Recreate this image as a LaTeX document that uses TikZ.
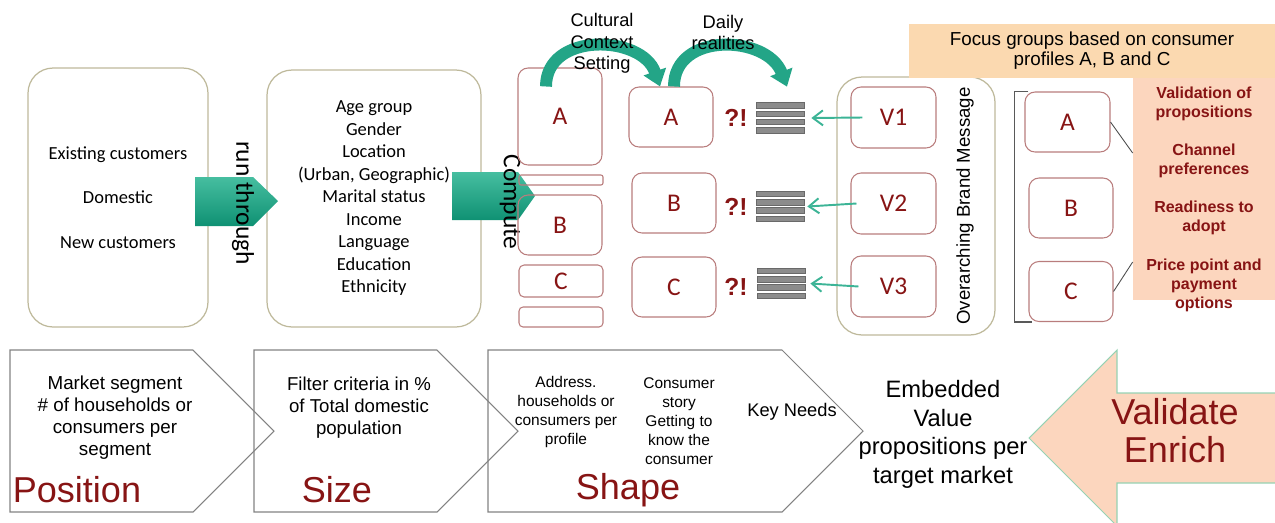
\documentclass[tikz,border=0pt]{standalone}
\usepackage{fontspec}
\setmainfont{Liberation Sans}
\newfontfamily\calibri{Carlito}
\usetikzlibrary{positioning,arrows.meta,calc}
\definecolor{olivegray}{RGB}{190,185,155}
\definecolor{rosegray}{RGB}{185,125,125}
\definecolor{wine}{RGB}{135,20,20}
\definecolor{tealtop}{RGB}{70,190,160}
\definecolor{tealbot}{RGB}{15,145,115}
\definecolor{tealmid}{RGB}{35,165,135}
\definecolor{tealline}{RGB}{60,180,150}
\definecolor{peach}{RGB}{251,217,176}
\definecolor{salmon}{RGB}{252,214,190}
\definecolor{bargray}{RGB}{140,140,140}
\definecolor{edgegray}{RGB}{130,130,130}
\definecolor{mintedge}{RGB}{150,210,180}

\begin{document}
\begin{tikzpicture}[x=0.02cm, y=-0.02cm, every node/.style={inner sep=0pt},
    outerbox/.style={draw=olivegray, line width=0.7pt, rounded corners=0.5cm},
    segbox/.style={draw=rosegray, line width=0.6pt, rounded corners=0.2cm, minimum width=1.68cm, minimum height=1.2cm, font=\calibri\fontsize{14.5}{16}\selectfont, text=wine},
    bandarrow/.style={draw=tealmid, line width=6.8pt, -{Triangle[width=13pt,length=9pt]}},
    valarrow/.style={draw=tealline, line width=1.1pt, -{Straight Barb[length=2mm,width=3mm]}},
    bigword/.style={text=wine, font=\fontsize{20.5}{21.5}\selectfont}]
  \useasboundingbox (0,0) rectangle (1275,522);

  % customer base and filter criteria
  \node[outerbox, minimum width=3.6cm, minimum height=5.18cm, align=center, font=\calibri\fontsize{10.5}{12.8}\selectfont] (customers) at (118,197.5) {Existing customers\\[12.7pt]Domestic\\[12.7pt]New customers};
  \node[outerbox, minimum width=4.28cm, minimum height=5.14cm, align=center, font=\calibri\fontsize{10.5}{12.8}\selectfont] (criteria) at (374,198.5) {Age group\\Gender\\Location\\(Urban, Geographic)\\Marital status\\Income\\Language\\Education\\Ethnicity};
  \shade[top color=tealtop, bottom color=tealbot] (195,177) -- (253,177) -- (278,201) -- (253,226) -- (195,226) -- cycle;
  \node[rotate=-90, font=\calibri\fontsize{14.5}{16}\selectfont] (runthrough) at (243,203) {run through};
  \shade[top color=tealtop, bottom color=tealbot] (452,172) -- (518,172) -- (535,196) -- (518,220) -- (452,220) -- cycle;
  \node[rotate=-90, font=\calibri\fontsize{14.5}{16}\selectfont] (compute) at (510,202) {Compute};

  % segments
  \node[segbox, minimum height=1.94cm] (lA) at (560,116.5) {A};
  \node[segbox, minimum height=0.2cm, rounded corners=0.04cm] (lbarA) at (561,180) {};
  \node[segbox] (lB) at (560,225) {B};
  \node[segbox, minimum height=0.64cm, rounded corners=0.1cm] (lC) at (561,281) {C};
  \node[segbox, minimum height=0.4cm, rounded corners=0.08cm] (lbarC) at (561,317) {};
  \node[segbox] (mA) at (671,117) {A};
  \node[segbox] (mB) at (674,203) {B};
  \node[segbox] (mC) at (674,287) {C};
  \foreach \n/\y in {1/118,2/207,3/287}
    \node[text=wine, font=\bfseries\fontsize{14}{16}\selectfont] (q\n) at (736,\y) {?!};

  % document stacks
  \node[minimum width=0.96cm, minimum height=0.6cm] (stk1) at (781,118) {};
  \node[minimum width=0.96cm, minimum height=0.6cm] (stk2) at (781,206.5) {};
  \node[minimum width=0.96cm, minimum height=0.6cm] (stk3) at (782,283.5) {};
  \foreach \s in {stk1,stk2,stk3}
    \foreach \k in {0,1,2,3}
      \draw[draw=bargray!75!black, fill=bargray, line width=0.4pt] ($(\s.north west)+(0,8.3*\k)$) rectangle ++(48,5.5);

  % curved arrows
  \draw[bandarrow] ($(lA.north)+(-14,19)$) .. controls +(0,-55) and +(-18,-52) .. ($(mA.north)+(-11,0)$);
  \draw[bandarrow] ($(mA.north)+(3,0)$) .. controls +(0,-55) and +(-20,-52) .. ($(stk1.north)+(6,-16)$);
  \node[align=center, font=\fontsize{10.4}{12.2}\selectfont] (cultural) at (602,43.5) {Cultural\\Context\\Setting};
  \node[align=center, font=\fontsize{10.4}{12.2}\selectfont] (daily) at (723,32.5) {Daily\\realities};

  % brand message
  \node[outerbox, minimum width=3.16cm, minimum height=5.16cm] (brand) at (916,206) {};
  \node[rotate=90, font=\fontsize{10.6}{12}\selectfont] (brandmsg) at (965,206) {Overarching Brand Message};
  \node[segbox, minimum width=1.7cm, minimum height=1.22cm] (V1) at (893.5,117.5) {V1};
  \node[segbox, minimum width=1.7cm, minimum height=1.22cm] (V2) at (893.5,203.5) {V2};
  \node[segbox, minimum width=1.7cm, minimum height=1.22cm] (V3) at (893.5,286.5) {V3};
  \draw[valarrow] ($(V1.west)+(12,0)$) -- ($(stk1.east)+(6,0)$);
  \draw[valarrow] ($(V2.west)+(6,0)$) -- ($(stk2.east)+(2,0)$);
  \draw[valarrow] ($(V3.west)+(8,0)$) -- ($(stk3.east)+(4,0)$);

  % focus groups
  \node[fill=peach, minimum width=7.32cm, minimum height=1.08cm, align=center, font=\fontsize{10.7}{11.3}\selectfont] (focus) at (1092,51) {Focus groups based on consumer\\profiles A, B and C};
  \node[segbox, minimum width=1.7cm] (rA) at (1067.5,122) {A};
  \node[segbox] (rB) at (1071,208) {B};
  \node[segbox] (rC) at (1071,291.5) {C};
  \draw[draw=gray!70!black, line width=0.7pt] ($(rA.north west)+(4,0)$) -- ++(-14,0) |- ($(rC.south west)+(4,0)$);
  \node[fill=salmon, minimum width=2.84cm, minimum height=4.44cm] (panel) at (1204,189) {};
  \draw[draw=gray!60!black, line width=0.5pt] (rA.east) -- ($(panel.west)+(0,-36)$);
  \draw[draw=gray!60!black, line width=0.5pt] (rC.east) -- ($(panel.west)+(0,73)$);
  \node[align=center, text=wine, font=\bfseries\fontsize{9.1}{10.8}\selectfont] (props) at (1204,199) {Validation of\\propositions\\[11pt]Channel\\preferences\\[11pt]Readiness to\\adopt\\[11pt]Price point and\\payment\\options};

  % position, size, shape
  \foreach \l/\r in {10/193,254/437,488/782}
    \draw[draw=edgegray, line width=0.6pt] (\l,350) -- (\r,350) -- ++(81,81) -- (\r,512) -- (\l,512) -- cycle;
  \node[align=center, font=\fontsize{10.7}{12.5}\selectfont] (segtext) at (115,418) {Market segment\\\# of households or\\consumers per\\segment};
  \node[bigword] (position) at (77,490) {Position};
  \node[align=center, font=\fontsize{10.6}{12.5}\selectfont] (filtertext) at (359,408) {Filter criteria in \%\\of Total domestic\\population};
  \node[bigword] (size) at (337,490) {Size};
  \node[align=center, font=\fontsize{8.8}{10.8}\selectfont] (address) at (566,412) {Address.\\households or\\consumers per\\profile};
  \node[align=center, font=\fontsize{8.8}{10.8}\selectfont] (story) at (679,421.5) {Consumer\\story\\Getting to\\know the\\consumer};
  \node[font=\fontsize{10.4}{12}\selectfont] (needs) at (792,412) {Key Needs};
  \node[bigword] (shape) at (628,490) {Shape};
  \node[align=center, font=\fontsize{13.5}{16.2}\selectfont] (embedded) at (943,434.5) {Embedded\\Value\\propositions per\\target market};

  % validate arrow
  \draw[draw=mintedge, fill=salmon, line width=0.6pt] (1029,438) -- (1117,350) -- (1117,393) -- (1290,393) -- (1290,483) -- (1117,483) -- (1117,526) -- cycle;
  \node[bigword, align=center] (validate) at (1175,431) {Validate\\Enrich};
\end{tikzpicture}
\end{document}
